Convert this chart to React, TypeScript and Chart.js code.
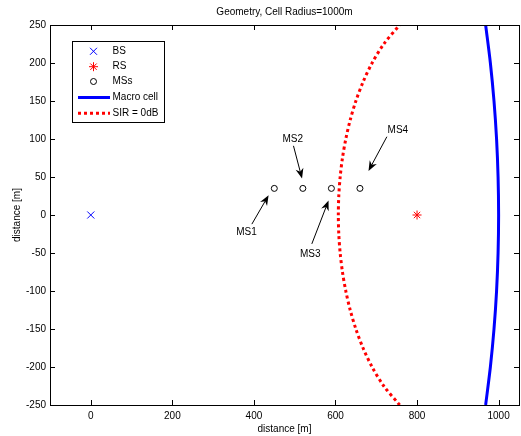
import React, { useEffect, useRef } from "react";
import { Chart, registerables } from "chart.js";

Chart.register(...registerables);

const FONT = '"Liberation Sans", Arial, Helvetica, sans-serif';

const titleText = "Geometry, Cell Radius=1000m";
const xAxisTitle = "distance [m]";
const yAxisTitle = "distance [m]";

const xTicks = [0, 200, 400, 600, 800, 1000];
const yTicks = [-250, -200, -150, -100, -50, 0, 50, 100, 150, 200, 250];

const bsX = [0];
const bsY = [0];
const rsX = [800];
const rsY = [0];
const msX = [450, 520, 590, 660];
const msY = [35, 35, 35, 35];

const macroY = [-250, -200, -150, -100, -50, 0, 50, 100, 150, 200, 250];
const macroX = [968.2, 979.8, 988.7, 995.0, 998.7, 1000, 998.7, 995.0, 988.7, 979.8, 968.2];

const sirY = [-250, -225, -200, -175, -150, -125, -100, -75, -50, -25, 0, 25, 50, 75, 100, 125, 150, 175, 200, 225, 250];
const sirX = [757.4, 718.4, 689.8, 667.6, 650.0, 636.1, 625.3, 617.1, 611.5, 608.1, 607, 608.1, 611.5, 617.1, 625.3, 636.1, 650.0, 667.6, 689.8, 718.4, 757.4];

const msLabels = ["MS1", "MS2", "MS3", "MS4"];
const labelX = [382, 495, 538, 753];
const labelY = [-23, 100, -51, 112];
const tailX = [395, 497, 542, 726];
const tailY = [-12, 91, -38, 103];
const headX = [436, 518, 583, 681];
const headY = [26, 48, 19, 58];

const legendLabels = ["BS", "RS", "MSs", "Macro cell", "SIR = 0dB"];

const zip = (xs: number[], ys: number[]) => xs.map((x, i) => ({ x, y: ys[i] }));

function drawMarker(ctx: CanvasRenderingContext2D, kind: string, cx: number, cy: number) {
  ctx.save();
  ctx.lineWidth = 1;
  if (kind === "x") {
    const r = 3.5;
    ctx.strokeStyle = "#0000ff";
    ctx.beginPath();
    ctx.moveTo(cx - r, cy - r);
    ctx.lineTo(cx + r, cy + r);
    ctx.moveTo(cx - r, cy + r);
    ctx.lineTo(cx + r, cy - r);
    ctx.stroke();
  } else if (kind === "*") {
    const r = 4.5;
    const d = r * Math.SQRT1_2;
    ctx.strokeStyle = "#ff0000";
    ctx.beginPath();
    ctx.moveTo(cx - r, cy);
    ctx.lineTo(cx + r, cy);
    ctx.moveTo(cx, cy - r);
    ctx.lineTo(cx, cy + r);
    ctx.moveTo(cx - d, cy - d);
    ctx.lineTo(cx + d, cy + d);
    ctx.moveTo(cx - d, cy + d);
    ctx.lineTo(cx + d, cy - d);
    ctx.stroke();
  } else if (kind === "o") {
    ctx.strokeStyle = "#000";
    ctx.beginPath();
    ctx.arc(cx, cy, 3, 0, Math.PI * 2);
    ctx.stroke();
  }
  ctx.restore();
}

const decorPlugin = {
  id: "decor",
  afterDraw(chart: any) {
    const ctx: CanvasRenderingContext2D = chart.ctx;
    const { left, right, top, bottom } = chart.chartArea;
    const xs = chart.scales.x;
    const ys = chart.scales.y;
    ctx.save();
    ctx.strokeStyle = "#000";
    ctx.lineWidth = 1;
    ctx.strokeRect(Math.round(left) + 0.5, Math.round(top) + 0.5, Math.round(right - left), Math.round(bottom - top));
    const tl = 5;
    ctx.beginPath();
    xTicks.forEach((v) => {
      const px = Math.round(xs.getPixelForValue(v)) + 0.5;
      ctx.moveTo(px, bottom);
      ctx.lineTo(px, bottom - tl);
      ctx.moveTo(px, top);
      ctx.lineTo(px, top + tl);
    });
    yTicks.forEach((v) => {
      const py = Math.round(ys.getPixelForValue(v)) + 0.5;
      ctx.moveTo(left, py);
      ctx.lineTo(left + tl, py);
      ctx.moveTo(right, py);
      ctx.lineTo(right - tl, py);
    });
    ctx.stroke();

    ctx.fillStyle = "#000";
    ctx.font = `10px ${FONT}`;
    ctx.textAlign = "center";
    ctx.textBaseline = "middle";
    ctx.fillText(titleText, (left + right) / 2, 12);
    ctx.fillText(xAxisTitle, (left + right) / 2, 429);
    ctx.save();
    ctx.translate(17, (top + bottom) / 2);
    ctx.rotate(-Math.PI / 2);
    ctx.fillText(yAxisTitle, 0, 0);
    ctx.restore();

    for (let i = 0; i < msLabels.length; i++) {
      const x1 = xs.getPixelForValue(tailX[i]);
      const y1 = ys.getPixelForValue(tailY[i]);
      const x2 = xs.getPixelForValue(headX[i]);
      const y2 = ys.getPixelForValue(headY[i]);
      const ang = Math.atan2(y2 - y1, x2 - x1);
      const L = 10;
      const W = 4;
      const ux = Math.cos(ang);
      const uy = Math.sin(ang);
      ctx.strokeStyle = "#000";
      ctx.lineWidth = 1;
      ctx.beginPath();
      ctx.moveTo(x1, y1);
      ctx.lineTo(x2 - ux * L * 0.6, y2 - uy * L * 0.6);
      ctx.stroke();
      ctx.fillStyle = "#000";
      ctx.beginPath();
      ctx.moveTo(x2, y2);
      ctx.lineTo(x2 - ux * L - uy * W, y2 - uy * L + ux * W);
      ctx.lineTo(x2 - ux * L * 0.7, y2 - uy * L * 0.7);
      ctx.lineTo(x2 - ux * L + uy * W, y2 - uy * L - ux * W);
      ctx.closePath();
      ctx.fill();
      ctx.font = `10px ${FONT}`;
      ctx.textAlign = "center";
      ctx.textBaseline = "middle";
      ctx.fillText(msLabels[i], xs.getPixelForValue(labelX[i]), ys.getPixelForValue(labelY[i]));
    }

    const bx = 72, by = 41, bw = 92, bh = 81;
    ctx.fillStyle = "#fff";
    ctx.fillRect(bx, by, bw, bh);
    ctx.strokeStyle = "#000";
    ctx.lineWidth = 1;
    ctx.strokeRect(bx + 0.5, by + 0.5, bw, bh);
    const rows = [51.3, 66.7, 81.5, 97.5, 113.3];
    drawMarker(ctx, "x", 93.5, rows[0]);
    drawMarker(ctx, "*", 93.5, rows[1]);
    drawMarker(ctx, "o", 93.5, rows[2]);
    ctx.save();
    ctx.lineWidth = 3;
    ctx.strokeStyle = "#0000ff";
    ctx.beginPath();
    ctx.moveTo(78, rows[3]);
    ctx.lineTo(110, rows[3]);
    ctx.stroke();
    ctx.strokeStyle = "#ff0000";
    ctx.setLineDash([3, 3]);
    ctx.beginPath();
    ctx.moveTo(78, rows[4]);
    ctx.lineTo(110, rows[4]);
    ctx.stroke();
    ctx.restore();
    ctx.fillStyle = "#000";
    ctx.font = `10px ${FONT}`;
    ctx.textAlign = "left";
    ctx.textBaseline = "middle";
    legendLabels.forEach((t, i) => ctx.fillText(t, 112.5, rows[i]));
    ctx.restore();
  },
};

export default function App() {
  const ref = useRef<HTMLCanvasElement | null>(null);
  useEffect(() => {
    document.body.style.margin = "0";
    const canvas = ref.current;
    if (!canvas) return;
    const chart = new Chart(canvas, {
      type: "scatter",
      data: {
        datasets: [
          { label: "BS", data: zip(bsX, bsY), pointStyle: "crossRot", pointRadius: 5, borderColor: "#0000ff", backgroundColor: "#0000ff", borderWidth: 1 },
          { label: "RS", data: zip(rsX, rsY), pointStyle: "star", pointRadius: 4.5, borderColor: "#ff0000", backgroundColor: "#ff0000", borderWidth: 1 },
          { label: "MSs", data: zip(msX, msY), pointStyle: "circle", pointRadius: 3, borderColor: "#000", backgroundColor: "rgba(0,0,0,0)", borderWidth: 1 },
          { label: "Macro cell", data: zip(macroX, macroY), showLine: true, pointRadius: 0, borderColor: "#0000ff", borderWidth: 3, tension: 0.3 },
          { label: "SIR = 0dB", data: zip(sirX, sirY), showLine: true, pointRadius: 0, borderColor: "#ff0000", borderWidth: 3, borderDash: [3, 3], tension: 0.3 },
        ],
      },
      options: {
        responsive: false,
        animation: false,
        devicePixelRatio: 1,
        layout: { autoPadding: false, padding: { top: 25, right: 2, left: 0, bottom: 0 } },
        plugins: { legend: { display: false }, title: { display: false }, tooltip: { enabled: false } },
        scales: {
          x: {
            type: "linear",
            min: -100,
            max: 1050,
            afterBuildTicks: (s: any) => { s.ticks = xTicks.map((v) => ({ value: v })); },
            afterFit: (s: any) => { s.height = 31; s.paddingLeft = 0; s.paddingRight = 0; },
            grid: { display: false, drawTicks: false },
            border: { display: false },
            ticks: { color: "#000", font: { family: FONT, size: 10 }, padding: 5, maxRotation: 0, autoSkip: false, callback: (v: any) => String(v) },
          },
          y: {
            type: "linear",
            min: -250,
            max: 250,
            afterBuildTicks: (s: any) => { s.ticks = yTicks.map((v) => ({ value: v })); },
            afterFit: (s: any) => { s.width = 50; s.paddingTop = 0; s.paddingBottom = 0; },
            grid: { display: false, drawTicks: false },
            border: { display: false },
            ticks: { color: "#000", font: { family: FONT, size: 10 }, padding: 4, autoSkip: false, callback: (v: any) => String(v) },
          },
        },
      },
      plugins: [decorPlugin],
    } as any);
    return () => chart.destroy();
  }, []);
  return <canvas ref={ref} width={521} height={436} style={{ display: "block" }} />;
}
